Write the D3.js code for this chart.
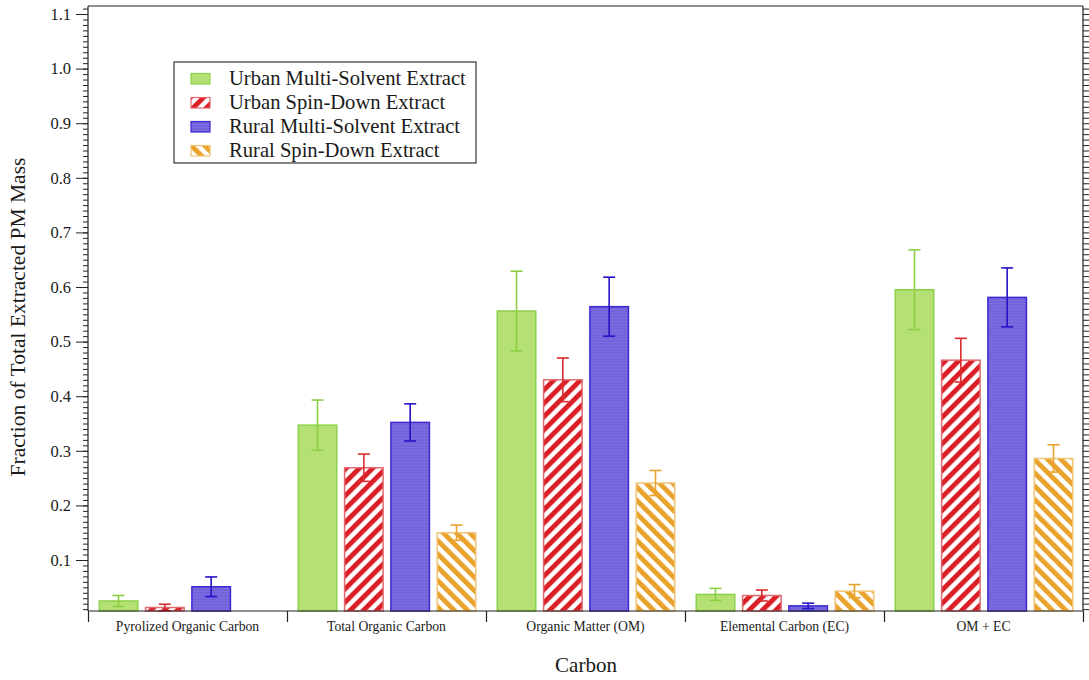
<!DOCTYPE html>
<html>
<head>
<meta charset="utf-8">
<script src="https://cdn.jsdelivr.net/npm/d3@7"></script>
<style>
  html, body { margin: 0; padding: 0; background: #fff; }
  svg { display: block; }
  text { font-family: "Liberation Serif", "Times New Roman", serif; fill: #1a1a1a; }
</style>
</head>
<body>
<svg id="chart" width="1089" height="680"></svg>
<script>
// Sample categories and series
const categories = ["Pyrolized Organic Carbon", "Total Organic Carbon", "Organic Matter (OM)", "Elemental Carbon (EC)", "OM + EC"];
const seriesNames = ["Urban Multi-Solvent Extract", "Urban Spin-Down Extract", "Rural Multi-Solvent Extract", "Rural Spin-Down Extract"];

// Mean fraction of total extracted PM mass, one array per series (null = not measured)
const urbanMulti  = [0.025, 0.347, 0.556, 0.037, 0.595];
const urbanSpin   = [0.013, 0.269, 0.430, 0.035, 0.466];
const ruralMulti  = [0.051, 0.352, 0.564, 0.016, 0.581];
const ruralSpin   = [null,  0.150, 0.241, 0.043, 0.286];

// Error bar half-widths (±)
const urbanMultiErr = [0.010, 0.046, 0.073, 0.011, 0.073];
const urbanSpinErr  = [0.006, 0.025, 0.040, 0.010, 0.040];
const ruralMultiErr = [0.018, 0.034, 0.054, 0.005, 0.054];
const ruralSpinErr  = [null,  0.014, 0.023, 0.012, 0.025];

// Y axis tick labels
const yTickValues = [0.1, 0.2, 0.3, 0.4, 0.5, 0.6, 0.7, 0.8, 0.9, 1.0, 1.1];

const seriesValues = [urbanMulti, urbanSpin, ruralMulti, ruralSpin];
const seriesErrors = [urbanMultiErr, urbanSpinErr, ruralMultiErr, ruralSpinErr];

const svg = d3.select("#chart");
const frame = { left: 88, right: 1083, top: 6, bottom: 611 };

const y = d3.scaleLinear().domain([0.0066, 1.1147]).range([frame.bottom, frame.top]);
const x0 = d3.scaleBand().domain(categories).range([frame.left, frame.right]).padding(0);
const x1 = d3.scaleBand().domain(seriesNames).range([10.5, 189.5]).paddingInner(0.136).paddingOuter(0);

// Fill patterns
const defs = svg.append("defs");

function stripes(id, color, angle) {
  const p = defs.append("pattern")
    .attr("id", id)
    .attr("patternUnits", "userSpaceOnUse")
    .attr("width", 9.4).attr("height", 9.4)
    .attr("patternTransform", `rotate(${angle})`);
  p.append("rect").attr("width", 9.4).attr("height", 9.4).attr("fill", "#fff");
  p.append("rect").attr("width", 4.9).attr("height", 9.4).attr("fill", color);
}
stripes("stripeRed", "#da1f27", 45);
stripes("stripeOrange", "#e9a22c", -45);

const bluePat = defs.append("pattern")
  .attr("id", "blueFill")
  .attr("patternUnits", "userSpaceOnUse")
  .attr("width", 8).attr("height", 3);
bluePat.append("rect").attr("width", 8).attr("height", 3).attr("fill", "#7464db");
bluePat.append("rect").attr("width", 8).attr("height", 1).attr("fill", "#7d6ee0");

const styles = [
  { fill: "#b5e073", stroke: "#8cd14a", err: "#8ccf45" },
  { fill: "url(#stripeRed)", stroke: "#e06a6e", err: "#d92b30" },
  { fill: "url(#blueFill)", stroke: "#3b28d2", err: "#2412c6" },
  { fill: "url(#stripeOrange)", stroke: "#f0c477", err: "#e9a22c" }
];

// Bars
const groups = svg.append("g").selectAll("g")
  .data(seriesNames)
  .join("g");

groups.each(function(name, si) {
  const g = d3.select(this);
  const rows = categories.map((c, ci) => ({ c, v: seriesValues[si][ci], e: seriesErrors[si][ci] }))
    .filter(d => d.v !== null);
  const st = styles[si];
  g.selectAll("rect")
    .data(rows)
    .join("rect")
    .attr("x", d => x0(d.c) + x1(name) + 0.75)
    .attr("width", x1.bandwidth() - 1.5)
    .attr("y", d => y(d.v))
    .attr("height", d => frame.bottom - y(d.v))
    .attr("fill", st.fill)
    .attr("stroke", st.stroke)
    .attr("stroke-width", 1.5);

  const eb = g.selectAll("g.err")
    .data(rows.filter(d => d.e !== null))
    .join("g")
    .attr("class", "err")
    .attr("stroke", st.err)
    .attr("stroke-width", 1.6)
    .attr("fill", "none");
  const cx = d => x0(d.c) + x1(name) + x1.bandwidth() / 2;
  eb.append("line")
    .attr("x1", cx).attr("x2", cx)
    .attr("y1", d => y(d.v + d.e))
    .attr("y2", d => Math.min(frame.bottom, y(d.v - d.e)));
  eb.append("line")
    .attr("x1", d => cx(d) - 6).attr("x2", d => cx(d) + 6)
    .attr("y1", d => y(d.v + d.e)).attr("y2", d => y(d.v + d.e));
  eb.filter(d => y(d.v - d.e) < frame.bottom).append("line")
    .attr("x1", d => cx(d) - 6).attr("x2", d => cx(d) + 6)
    .attr("y1", d => y(d.v - d.e)).attr("y2", d => y(d.v - d.e));
});

// Frame (top edge)
svg.append("line")
  .attr("x1", frame.left).attr("x2", frame.right)
  .attr("y1", frame.top).attr("y2", frame.top)
  .attr("stroke", "#222").attr("stroke-width", 1.2);

// Minor tick values every 0.01
const minorTicks = d3.range(1, 112).map(i => i / 100).filter(v => v >= 0.0066 && v <= 1.1147);

// Left axis: minor ticks
svg.append("g")
  .attr("transform", `translate(${frame.left},0)`)
  .call(d3.axisLeft(y).tickValues(minorTicks).tickSize(5).tickFormat(""))
  .call(g => g.select(".domain").remove())
  .call(g => g.selectAll("line").attr("stroke", "#222"));

// Left axis: major ticks with labels
svg.append("g")
  .attr("transform", `translate(${frame.left},0)`)
  .call(d3.axisLeft(y).tickValues(yTickValues).tickSize(12).tickPadding(5).tickFormat(d3.format(".1f")))
  .call(g => g.select(".domain").attr("stroke", "#222").attr("stroke-width", 1.2).attr("d", `M0,${frame.top}V${frame.bottom}`))
  .call(g => g.selectAll("line").attr("stroke", "#222"))
  .call(g => g.selectAll("text").attr("font-size", 16.5).attr("fill", "#1a1a1a"));

// Right axis: minor ticks only
svg.append("g")
  .attr("transform", `translate(${frame.right},0)`)
  .call(d3.axisRight(y).tickValues(minorTicks).tickSize(7).tickFormat(""))
  .call(g => g.select(".domain").attr("stroke", "#222").attr("stroke-width", 1.2).attr("d", `M0,${frame.top}V${frame.bottom}`))
  .call(g => g.selectAll("line").attr("stroke", "#222"));

// Bottom axis: category separators
const xEdges = d3.scaleLinear().domain([0, categories.length]).range([frame.left, frame.right]);
svg.append("g")
  .attr("transform", `translate(0,${frame.bottom})`)
  .call(d3.axisBottom(xEdges).tickValues(d3.range(categories.length + 1)).tickSize(11).tickFormat(""))
  .call(g => g.select(".domain").attr("stroke", "#222").attr("stroke-width", 1.2).attr("d", `M${frame.left},0H${frame.right}`))
  .call(g => g.selectAll("line").attr("stroke", "#222").attr("stroke-width", 1.2));

// Category labels
svg.append("g").selectAll("text")
  .data(categories)
  .join("text")
  .attr("x", d => x0(d) + x0.bandwidth() / 2)
  .attr("y", 631)
  .attr("text-anchor", "middle")
  .attr("font-size", 13.7)
  .text(d => d);

// Axis titles
svg.append("text")
  .attr("x", 586).attr("y", 672)
  .attr("text-anchor", "middle")
  .attr("font-size", 21)
  .text("Carbon");

svg.append("text")
  .attr("transform", "translate(25,317) rotate(-90)")
  .attr("text-anchor", "middle")
  .attr("font-size", 21.5)
  .text("Fraction of Total Extracted PM Mass");

// Legend
const legend = svg.append("g").attr("transform", "translate(174,62)");
legend.append("rect")
  .attr("width", 302).attr("height", 101)
  .attr("fill", "#fff").attr("stroke", "#333").attr("stroke-width", 1.2);
const li = legend.selectAll("g.item")
  .data(seriesNames)
  .join("g")
  .attr("class", "item")
  .attr("transform", (d, i) => `translate(0,${11 + i * 24})`);
li.append("rect")
  .attr("x", 17).attr("y", 0.5)
  .attr("width", 19).attr("height", 10.5)
  .attr("fill", (d, i) => styles[i].fill)
  .attr("stroke", (d, i) => styles[i].stroke)
  .attr("stroke-width", 1.2);
li.append("text")
  .attr("x", 55).attr("y", 11.5)
  .attr("font-size", 20.6)
  .text(d => d);
</script>
</body>
</html>
